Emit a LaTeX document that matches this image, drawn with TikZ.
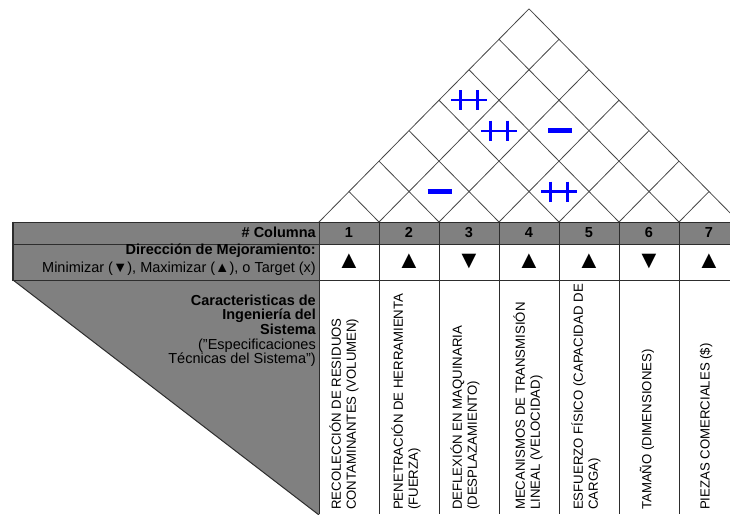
\documentclass[tikz,border=0pt]{standalone}
\usepackage{fontspec}
\setmainfont{Liberation Sans}
\definecolor{cellgray}{RGB}{128,128,128}
\definecolor{rule}{RGB}{45,45,45}
\definecolor{roofrule}{RGB}{70,70,70}
\begin{document}
\begin{tikzpicture}[x=1pt,y=-1pt,
  tablerule/.style={draw=rule, line width=1pt},
  roofline/.style={draw=roofrule, line width=0.8pt},
  plusmark/.style={draw=blue, line width=2.2pt},
  minusmark/.style={draw=blue, line width=4.5pt},
  boldlabel/.style={font=\fontsize{14.5}{15}\selectfont\bfseries, inner sep=0pt},
  plainlabel/.style={font=\fontsize{14.5}{15}\selectfont, inner sep=0pt},
  dirmark/.style={font=\fontsize{25}{25}\selectfont, inner sep=0pt},
  spec/.style={font=\fontsize{13.2}{15}\selectfont, rotate=90, anchor=west,
    align=left, inner sep=0pt},
  plusplus/.pic={\draw[plusmark] (-18,0) -- (18,0) (-8.5,-10) -- (-8.5,10)
    (8.5,-10) -- (8.5,10);},
  minusbar/.pic={\draw[minusmark] (-12,0) -- (12,0);}
]
\useasboundingbox (0,0) rectangle (730,514);
\begin{scope}
\clip (0,0) rectangle (730,514);

% correlation roof: diagonal grid above the seven columns
\foreach \k in {0,...,6} {
  \pgfmathsetmacro\bx{319+60*\k}
  \draw[roofline] (\bx,222) -- ({(\bx+739)/2},{222-1.015*(739-\bx)/2});
}
\foreach \k in {1,...,7} {
  \pgfmathsetmacro\bx{319+60*\k}
  \draw[roofline] (\bx,222) -- ({(\bx+319)/2},{222-1.015*(\bx-319)/2});
}

% correlation symbols
\pic at (469,100.2) {plusplus};
\pic at (499,130.6) {plusplus};
\pic at (559,191.5) {plusplus};
\pic at (439.5,191.5) {minusbar};
\pic at (560,130.6) {minusbar};

% shaded header areas
\fill[cellgray] (13,222) rectangle (739,244);
\fill[cellgray] (13,244) rectangle (319,280);
\fill[cellgray] (13,280) -- (319,280) -- (319,515) -- cycle;

% table rules
\draw[tablerule] (13,222) -- (739,222);
\draw[tablerule] (13,244) -- (739,244);
\draw[tablerule] (13,280) -- (739,280);
\draw[tablerule, line width=1.5pt] (13,221.5) -- (13,280.5);
\draw[tablerule] (13,280) -- (319,515);
\foreach \k in {0,...,7} {
  \draw[tablerule] ({319+60*\k},222) -- ({319+60*\k},514);
}

% row titles
\node[boldlabel, anchor=base east] (colhead) at (316,237.5) {\# Columna};
\node[boldlabel, anchor=base east] (dirhead) at (316,254.5) {Dirección de Mejoramiento:};
\node[plainlabel, anchor=base east] (dirkey) at (316,272.5)
  {Minimizar (▼), Maximizar (▲), o Target (x)};
\node[boldlabel, anchor=base east] (spechead1) at (316,305) {Caracteristicas de};
\node[boldlabel, anchor=base east] (spechead2) at (316,319.7) {Ingeniería del};
\node[boldlabel, anchor=base east] (spechead3) at (316,334.4) {Sistema};
\node[plainlabel, anchor=base east] (spechead4) at (316,349.1) {("Especificaciones};
\node[plainlabel, anchor=base east] (spechead5) at (316,363.8) {Técnicas del Sistema")};

% column numbers and improvement directions
\foreach \k/\d in {1/▲,2/▲,3/▼,4/▲,5/▲,6/▼,7/▲} {
  \node[boldlabel, anchor=base] (num\k) at ({349+60*(\k-1)},237.5) {\k};
  \node[dirmark] (dir\k) at ({349+60*(\k-1)},261.5) {\d};
}

% engineering characteristics
\node[spec] (spec1) at (344,510) {RECOLECCIÓN DE RESIDUOS\\CONTAMINANTES (VOLUMEN)};
\node[spec] (spec2) at (406,510) {PENETRACIÓN DE HERRAMIENTA\\(FUERZA)};
\node[spec] (spec3) at (465,510) {DEFLEXIÓN EN MAQUINARIA\\(DESPLAZAMIENTO)};
\node[spec] (spec4) at (528,510) {MECANISMOS DE TRANSMISIÓN\\LINEAL (VELOCIDAD)};
\node[spec] (spec5) at (586,510) {ESFUERZO FÍSICO (CAPACIDAD DE\\CARGA)};
\node[spec] (spec6) at (647,510) {TAMAÑO (DIMENSIONES)};
\node[spec] (spec7) at (706,510) {PIEZAS COMERCIALES (\$)};
\end{scope}
\end{tikzpicture}
\end{document}
